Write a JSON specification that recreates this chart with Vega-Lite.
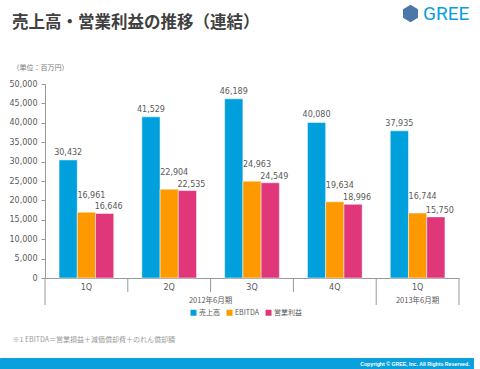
{
  "$schema": "https://vega.github.io/schema/vega-lite/v6.json",
  "width": 414,
  "height": 194,
  "autosize": {"type": "none"},
  "padding": {"left": 45, "top": 84, "right": 21, "bottom": 91},
  "background": "white",
  "config": {
    "view": {"stroke": null},
    "font": "DejaVu Sans, Noto Sans CJK JP",
    "text": {"font": "DejaVu Sans, Noto Sans CJK JP"}
  },
  "title": {
    "text": "売上高・営業利益の推移（連結）",
    "anchor": "start",
    "frame": "group",
    "font": "Noto Sans CJK JP",
    "fontSize": 16.5,
    "fontWeight": "bold",
    "color": "#404040",
    "dx": -33,
    "dy": 57,
    "offset": 30
  },
  "resolve": {"axis": {"x": "independent", "y": "independent"}},
  "datasets": {
    "bars": [
      {"q": "2012-1Q", "series": "売上高", "value": 30432},
      {"q": "2012-1Q", "series": "EBITDA", "value": 16961},
      {"q": "2012-1Q", "series": "営業利益", "value": 16646},
      {"q": "2012-2Q", "series": "売上高", "value": 41529},
      {"q": "2012-2Q", "series": "EBITDA", "value": 22904},
      {"q": "2012-2Q", "series": "営業利益", "value": 22535},
      {"q": "2012-3Q", "series": "売上高", "value": 46189},
      {"q": "2012-3Q", "series": "EBITDA", "value": 24963},
      {"q": "2012-3Q", "series": "営業利益", "value": 24549},
      {"q": "2012-4Q", "series": "売上高", "value": 40080},
      {"q": "2012-4Q", "series": "EBITDA", "value": 19634},
      {"q": "2012-4Q", "series": "営業利益", "value": 18996},
      {"q": "2013-1Q", "series": "売上高", "value": 37935},
      {"q": "2013-1Q", "series": "EBITDA", "value": 16744},
      {"q": "2013-1Q", "series": "営業利益", "value": 15750}
    ],
    "shortSeps": [{"q": "2012-2Q"}, {"q": "2012-3Q"}, {"q": "2012-4Q"}],
    "longSeps": [{"q": "2012-1Q"}, {"q": "2013-1Q"}],
    "rightEdge": [{"q": "2013-1Q"}],
    "year2012": [{"q": "2012-2Q", "label": "2012年6月期"}],
    "year2013": [{"q": "2013-1Q", "label": "2013年6月期"}],
    "empty": []
  },
  "layer": [
    {
      "data": {"name": "bars"},
      "mark": {"type": "bar", "stroke": "white", "strokeWidth": 0.5},
      "encoding": {
        "x": {
          "field": "q",
          "type": "nominal",
          "sort": ["2012-1Q", "2012-2Q", "2012-3Q", "2012-4Q", "2013-1Q"],
          "scale": {"paddingInner": 0, "paddingOuter": 0},
          "axis": {
            "orient": "bottom",
            "title": "※1 EBITDA＝営業損益＋減価償却費＋のれん償却額",
            "titleX": -33,
            "titleY": 61,
            "titleAlign": "left",
            "titleBaseline": "middle",
            "titleAnchor": "start",
            "titleFont": "Noto Sans CJK JP",
            "titleFontSize": 7,
            "titleFontWeight": "normal",
            "titleColor": "#999999",
            "labelExpr": "split(datum.value, '-')[1]",
            "labelAngle": 0,
            "labelFontSize": 8,
            "labelColor": "#595959",
            "labelPadding": 5,
            "ticks": false,
            "domain": true,
            "domainColor": "#999999"
          }
        },
        "xOffset": {
          "field": "series",
          "type": "nominal",
          "sort": ["売上高", "EBITDA", "営業利益"],
          "scale": {"paddingInner": 0, "paddingOuter": 0.77}
        },
        "y": {
          "field": "value",
          "type": "quantitative",
          "scale": {"domain": [0, 50000], "nice": false},
          "axis": {
            "orient": "left",
            "title": "（単位：百万円）",
            "titleAngle": 0,
            "titleX": -33,
            "titleY": -17,
            "titleAlign": "left",
            "titleBaseline": "middle",
            "titleFont": "Noto Sans CJK JP",
            "titleFontSize": 7,
            "titleFontWeight": "normal",
            "titleColor": "#777777",
            "values": [0, 5000, 10000, 15000, 20000, 25000, 30000, 35000, 40000, 45000, 50000],
            "labelExpr": "format(datum.value, ',.0f')",
            "labelFontSize": 8,
            "labelColor": "#595959",
            "labelPadding": 4,
            "tickSize": 4,
            "tickColor": "#999999",
            "domainColor": "#999999",
            "grid": false
          }
        },
        "color": {
          "field": "series",
          "type": "nominal",
          "scale": {"domain": ["売上高", "EBITDA", "営業利益"], "range": ["#00a0dc", "#ff9900", "#e0367a"]},
          "legend": {
            "orient": "none",
            "legendX": 145,
            "legendY": 225,
            "direction": "horizontal",
            "title": null,
            "symbolType": "square",
            "symbolSize": 36,
            "symbolStrokeWidth": 0,
            "labelFont": "Noto Sans CJK JP",
            "labelFontSize": 7,
            "labelColor": "#595959",
            "labelOffset": 2,
            "columnPadding": 6
          }
        }
      }
    },
    {
      "data": {"name": "bars"},
      "transform": [{"filter": "datum.series === '売上高'"}],
      "mark": {"type": "text", "baseline": "bottom", "dy": -3, "fontSize": 8, "color": "#595959"},
      "encoding": {
        "x": {"field": "q", "type": "nominal", "sort": ["2012-1Q", "2012-2Q", "2012-3Q", "2012-4Q", "2013-1Q"], "axis": null},
        "xOffset": {"field": "series", "type": "nominal", "sort": ["売上高", "EBITDA", "営業利益"]},
        "y": {"field": "value", "type": "quantitative", "axis": null},
        "text": {"field": "value", "type": "quantitative", "format": ","}
      }
    },
    {
      "data": {"name": "bars"},
      "transform": [{"filter": "datum.series === 'EBITDA'"}],
      "mark": {"type": "text", "baseline": "bottom", "dy": -12, "dx": 5, "fontSize": 8, "color": "#595959"},
      "encoding": {
        "x": {"field": "q", "type": "nominal", "sort": ["2012-1Q", "2012-2Q", "2012-3Q", "2012-4Q", "2013-1Q"], "axis": null},
        "xOffset": {"field": "series", "type": "nominal", "sort": ["売上高", "EBITDA", "営業利益"]},
        "y": {"field": "value", "type": "quantitative", "axis": null},
        "text": {"field": "value", "type": "quantitative", "format": ","}
      }
    },
    {
      "data": {"name": "bars"},
      "transform": [{"filter": "datum.series === '営業利益'"}],
      "mark": {"type": "text", "baseline": "bottom", "dy": -2, "dx": 4, "fontSize": 8, "color": "#595959"},
      "encoding": {
        "x": {"field": "q", "type": "nominal", "sort": ["2012-1Q", "2012-2Q", "2012-3Q", "2012-4Q", "2013-1Q"], "axis": null},
        "xOffset": {"field": "series", "type": "nominal", "sort": ["売上高", "EBITDA", "営業利益"]},
        "y": {"field": "value", "type": "quantitative", "axis": null},
        "text": {"field": "value", "type": "quantitative", "format": ","}
      }
    },
    {
      "data": {"name": "shortSeps"},
      "mark": {"type": "rule", "color": "#999999", "strokeWidth": 1},
      "encoding": {
        "x": {"field": "q", "type": "nominal", "bandPosition": 0, "sort": ["2012-1Q", "2012-2Q", "2012-3Q", "2012-4Q", "2013-1Q"], "axis": null},
        "y": {"datum": 0, "axis": null},
        "y2": {"datum": -3608}
      }
    },
    {
      "data": {"name": "longSeps"},
      "mark": {"type": "rule", "color": "#999999", "strokeWidth": 1},
      "encoding": {
        "x": {"field": "q", "type": "nominal", "bandPosition": 0, "sort": ["2012-1Q", "2012-2Q", "2012-3Q", "2012-4Q", "2013-1Q"], "axis": null},
        "y": {"datum": 0, "axis": null},
        "y2": {"datum": -6960}
      }
    },
    {
      "data": {"name": "rightEdge"},
      "mark": {"type": "rule", "color": "#999999", "strokeWidth": 1},
      "encoding": {
        "x": {"field": "q", "type": "nominal", "bandPosition": 1, "sort": ["2012-1Q", "2012-2Q", "2012-3Q", "2012-4Q", "2013-1Q"], "axis": null},
        "y": {"datum": 0, "axis": null},
        "y2": {"datum": -6960}
      }
    },
    {
      "data": {"name": "year2012"},
      "mark": {"type": "text", "font": "Noto Sans CJK JP", "fontSize": 7.5, "color": "#595959", "baseline": "middle"},
      "encoding": {
        "x": {"field": "q", "type": "nominal", "bandPosition": 1, "sort": ["2012-1Q", "2012-2Q", "2012-3Q", "2012-4Q", "2013-1Q"], "axis": null},
        "y": {"datum": -5850, "axis": null},
        "text": {"field": "label"}
      }
    },
    {
      "data": {"name": "year2013"},
      "mark": {"type": "text", "font": "Noto Sans CJK JP", "fontSize": 7.5, "color": "#595959", "baseline": "middle"},
      "encoding": {
        "x": {"field": "q", "type": "nominal", "bandPosition": 0.5, "sort": ["2012-1Q", "2012-2Q", "2012-3Q", "2012-4Q", "2013-1Q"], "axis": null},
        "y": {"datum": -5850, "axis": null},
        "text": {"field": "label"}
      }
    },
    {
      "data": {"name": "empty"},
      "mark": {"type": "point", "filled": true},
      "encoding": {
        "shape": {
          "datum": "GREE",
          "scale": {"domain": ["GREE"], "range": ["M0,-1L0.866,-0.5L0.866,0.5L0,1L-0.866,0.5L-0.866,-0.5Z"]},
          "legend": {
            "orient": "none",
            "legendX": 356,
            "legendY": -80,
            "title": null,
            "symbolSize": 300,
            "symbolFillColor": "#0aa0de",
            "symbolStrokeWidth": 0,
            "symbolOpacity": 1,
            "labelFont": "Roboto",
            "labelFontSize": 19,
            "labelColor": "#0aa0de",
            "labelOffset": 3
          }
        }
      }
    },
    {
      "data": {"name": "empty"},
      "mark": {"type": "point", "filled": true},
      "encoding": {
        "opacity": {
          "datum": "Copyright © GREE, Inc. All Rights Reserved.",
          "type": "ordinal",
          "scale": {"domain": ["Copyright © GREE, Inc. All Rights Reserved."], "range": [1]},
          "legend": {
            "orient": "none",
            "legendX": -45,
            "legendY": 274,
            "title": null,
            "fillColor": "#0aa0de",
            "strokeColor": "#0aa0de",
            "padding": 3,
            "cornerRadius": 0,
            "symbolSize": 1,
            "symbolOpacity": 0,
            "symbolStrokeWidth": 0,
            "labelFont": "Liberation Sans",
            "labelFontSize": 5.2,
            "labelFontWeight": "bold",
            "labelColor": "white",
            "labelOffset": 352,
            "labelLimit": 0
          }
        }
      }
    }
  ]
}
